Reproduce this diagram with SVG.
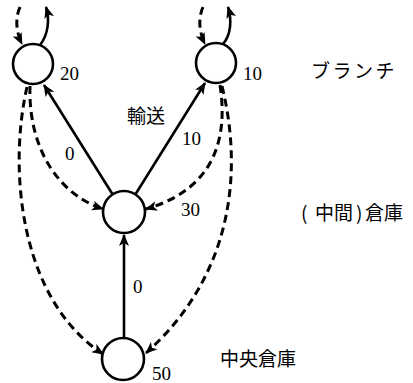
<svg xmlns="http://www.w3.org/2000/svg" width="413" height="383" viewBox="0 0 413 383">
  <style>
    .node { fill: #fff; stroke: #000; stroke-width: 2.6; }
    .solid { fill: none; stroke: #000; stroke-width: 2.6; marker-end: url(#arrow); }
    .dash { fill: none; stroke: #000; stroke-width: 3; stroke-dasharray: 8 5; marker-end: url(#arrow); }
    .num { font-family: "Liberation Serif", "DejaVu Serif", serif; font-size: 19px; fill: #000; }
    .jp { font-family: "Noto Sans CJK JP", "Noto Sans", sans-serif; font-size: 19px; fill: #000; }
  </style>
  <defs>
    <marker id="arrow" markerUnits="userSpaceOnUse" markerWidth="12" markerHeight="10" viewBox="0 0 12 10" refX="11" refY="5" orient="auto">
      <path d="M0,0 L12,5 L0,10 L3,5 z" fill="#000"/>
    </marker>
  </defs>

  <rect width="413" height="383" fill="#fff"/>

  <!-- connectors -->
  <g id="connectors">
    <!-- self loops on the branch nodes -->
    <path class="dash" d="M 20 7 C 15 18, 16 32, 22 44"/>
    <path class="solid" d="M 40 45 C 48 35, 50 20, 46 7"/>
    <path class="dash" d="M 203 7 C 198 18, 199 32, 205 44"/>
    <path class="solid" d="M 223 44 C 231 35, 232 20, 228 7"/>
    <!-- transport flows (solid) -->
    <path class="solid" d="M 113 195 L 44 85"/>
    <path class="solid" d="M 135 195 L 205 83"/>
    <path class="solid" d="M 124 338 L 124 235"/>
    <!-- return flows (dashed) -->
    <path class="dash" d="M 30 86 C 28 150, 60 195, 103 209"/>
    <path class="dash" d="M 27 87 C 8 170, 20 300, 103 354"/>
    <path class="dash" d="M 220 85 C 230 150, 205 192, 146 209"/>
    <path class="dash" d="M 222 86 C 245 180, 228 280, 146 353"/>
  </g>

  <!-- nodes -->
  <g id="branch-left">
    <circle class="node" cx="33" cy="64" r="20"/>
    <text class="num" x="60" y="80">20</text>
  </g>
  <g id="branch-right">
    <circle class="node" cx="216" cy="63" r="20"/>
    <text class="num" x="243" y="80">10</text>
  </g>
  <g id="middle-warehouse">
    <circle class="node" cx="124" cy="212" r="21"/>
    <text class="num" x="181" y="216">30</text>
  </g>
  <g id="central-warehouse">
    <circle class="node" cx="123" cy="359" r="21"/>
    <text class="num" x="152" y="380">50</text>
  </g>

  <!-- edge labels -->
  <g id="edge-labels">
    <text class="jp" x="127" y="123">輸送</text>
    <text class="num" x="65" y="160">0</text>
    <text class="num" x="182" y="145">10</text>
    <text class="num" x="133" y="293">0</text>
  </g>

  <!-- tier labels -->
  <g id="tier-labels">
    <text class="jp" x="311" y="78" letter-spacing="2.5">ブランチ</text>
    <text class="jp" x="301" y="220">(<tspan x="315">中間</tspan><tspan x="356">)</tspan><tspan x="365">倉庫</tspan></text>
    <text class="jp" x="220" y="366" font-size="20">中央倉庫</text>
  </g>
</svg>
